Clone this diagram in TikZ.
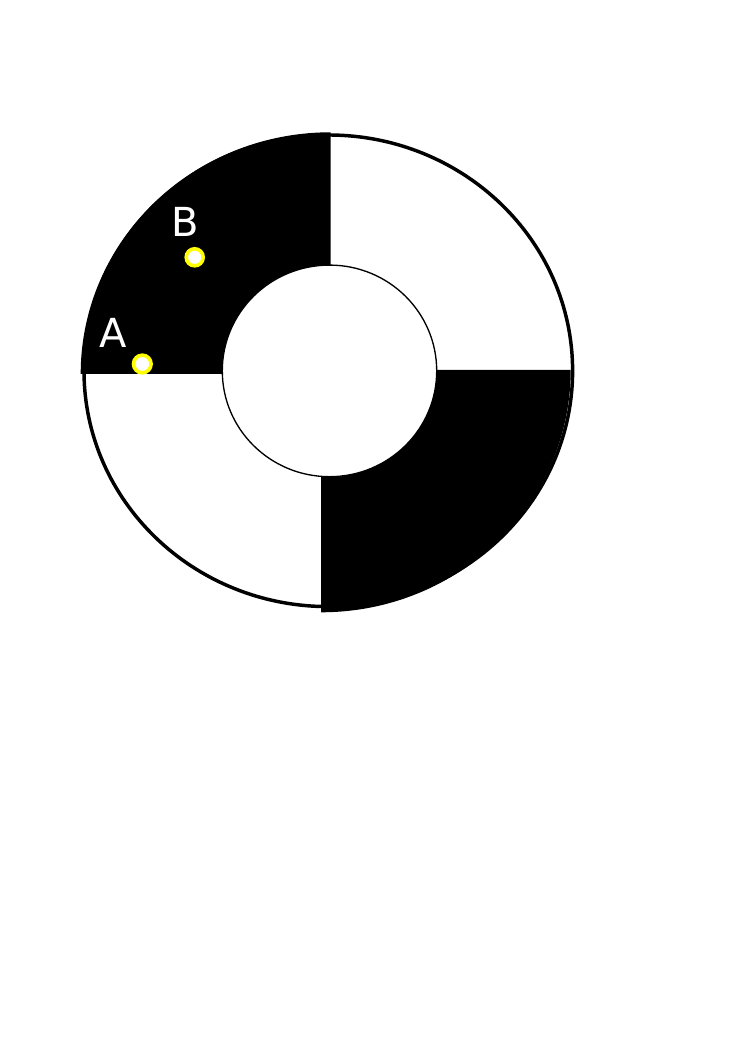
\documentclass[tikz,border=0pt]{standalone}
\usepackage{fontspec}
\newfontfamily\lblfont{DejaVu Sans}
\begin{document}
\begin{tikzpicture}[x=0.75pt,y=0.75pt,
  quad/.style={fill=black},
  ringline/.style={draw=black,line width=2.6pt},
  hole/.style={fill=white,draw=black,line width=1pt},
  pt/.style={draw={rgb,255:red,255;green,255;blue,0},fill=white,line width=2.7pt},
  lbl/.style={text=white,font=\lblfont\fontsize{30}{36}\selectfont,inner sep=0pt,anchor=base}]
\useasboundingbox (0,0) rectangle (745,1053);
\fill[white] (0,0) rectangle (745,1053);
% outer ring outline
\draw[ringline] (328.3,682.2) ellipse [x radius=244.3, y radius=235.8];
% black quadrants
\fill[quad] (330.7,679) -- ++(0,241.7) arc[start angle=90, end angle=180, x radius=250, y radius=241.7] -- cycle;
\fill[quad] (321,683) -- ++(0,-242.3) arc[start angle=270, end angle=360, x radius=249.7, y radius=242.3] -- cycle;
% inner hole
\draw[hole] (329.5,682.1) ellipse [x radius=107.2, y radius=105.8];
% points
\draw[pt] (142.3,689) circle [radius=8.8];
\draw[pt] (194.7,795.7) circle [radius=8.5];
\node[lbl] (labA) at (113.3,705) {A};
\node[lbl] (labB) at (185,816.3) {B};
\end{tikzpicture}
\end{document}
